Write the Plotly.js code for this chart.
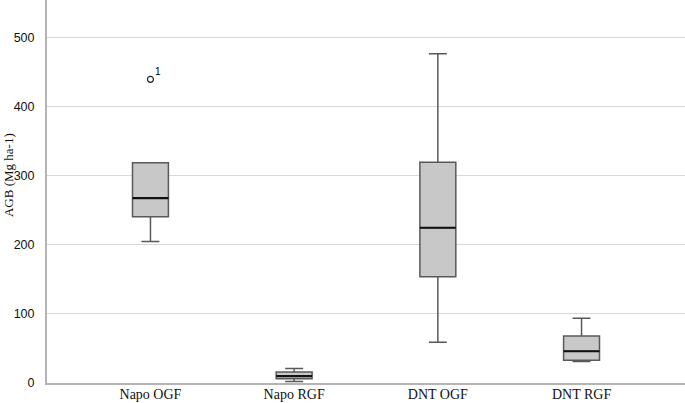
<!DOCTYPE html>
<html>
<head>
<meta charset="utf-8">
<script src="https://cdn.plot.ly/plotly-3.0.1.min.js"></script>
<style>html,body{margin:0;padding:0;background:#fff;}#chart{width:685px;height:403px;}</style>
</head>
<body>
<div id="chart"></div>
<script>
const categories = ["Napo OGF", "Napo RGF", "DNT OGF", "DNT RGF"];
const lowerWhisker = [205, 2, 59, 31];
const q1Values = [241, 6, 154, 33];
const medianValues = [268, 10, 225, 46];
const q3Values = [319, 16, 320, 68];
const upperWhisker = [319, 21, 477, 94];
const outlierCategory = [0];
const outlierValues = [440];
const outlierLabels = ["1"];
const yTicks = [0, 100, 200, 300, 400, 500];

const xs = categories.map((c, i) => i);
const halfW = 0.125;
const medX = [], medY = [];
xs.forEach((x, i) => { medX.push(x - halfW, x + halfW, null); medY.push(medianValues[i], medianValues[i], null); });

const traces = [
  {
    type: 'box', x: xs, q1: q1Values, median: medianValues, q3: q3Values,
    lowerfence: lowerWhisker, upperfence: upperWhisker,
    width: 0.25, whiskerwidth: 0.5,
    fillcolor: '#c8c8c8', line: {color: '#595959', width: 1.5},
    boxpoints: false, hoverinfo: 'skip', showlegend: false
  },
  {
    type: 'scatter', mode: 'lines', x: medX, y: medY,
    line: {color: '#111', width: 2.2}, hoverinfo: 'skip', showlegend: false
  },
  {
    type: 'scatter', mode: 'markers', x: outlierCategory, y: outlierValues,
    marker: {symbol: 'circle-open', size: 6, color: '#222', line: {width: 1.2}},
    hoverinfo: 'skip', showlegend: false
  }
];

const annotations = outlierCategory.map((c, i) => ({
  x: c, y: outlierValues[i], xref: 'x', yref: 'y', text: outlierLabels[i],
  showarrow: false, xanchor: 'left', yanchor: 'bottom', xshift: 3, yshift: 0,
  font: {family: 'Liberation Sans, Arial, sans-serif', size: 10, color: '#000'}
}));
annotations.push({
  x: -0.0611, y: 0.543, xref: 'paper', yref: 'paper', text: 'AGB (Mg ha-1)',
  textangle: -90, showarrow: false, xanchor: 'center', yanchor: 'middle',
  font: {family: 'Liberation Serif, Times New Roman, serif', size: 13, color: '#111'}
});

const layout = {
  width: 685, height: 403,
  margin: {l: 47, r: 0, t: 0, b: 20},
  paper_bgcolor: '#fff', plot_bgcolor: '#fff',
  showlegend: false,
  annotations: annotations,
  xaxis: {
    range: [-0.72, 3.72], tickvals: xs, ticktext: categories,
    showgrid: false, zeroline: false, showline: true, linecolor: '#b4b4b4', linewidth: 2,
    ticks: '', ticklabelstandoff: -3,
    tickfont: {family: 'Liberation Serif, Times New Roman, serif', size: 14, color: '#111'}
  },
  yaxis: {
    range: [0, 555], tickvals: yTicks, ticks: '',
    showgrid: true, gridcolor: '#d9d9d9', gridwidth: 1,
    zeroline: false, showline: true, linecolor: '#b4b4b4', linewidth: 2,
    ticklabelstandoff: 8,
    tickfont: {family: 'Liberation Sans, Arial, sans-serif', size: 12.5, color: '#111'}
  }
};

Plotly.newPlot('chart', traces, layout, {displayModeBar: false, staticPlot: true});
</script>
</body>
</html>
